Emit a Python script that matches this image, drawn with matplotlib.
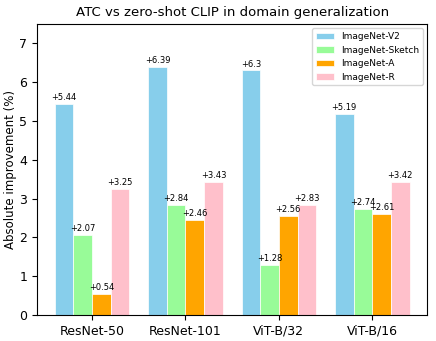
import matplotlib
matplotlib.use("Agg")
import matplotlib.pyplot as plt
import numpy as np

models = ["ResNet-50", "ResNet-101", "ViT-B/32", "ViT-B/16"]
datasets = ["ImageNet-V2", "ImageNet-Sketch", "ImageNet-A", "ImageNet-R"]
v2 = [5.44, 6.39, 6.3, 5.19]
sketch = [2.07, 2.84, 1.28, 2.74]
adv = [0.54, 2.46, 2.56, 2.61]
rend = [3.25, 3.43, 2.83, 3.42]
labels_txt = [["+5.44", "+6.39", "+6.3", "+5.19"],
              ["+2.07", "+2.84", "+1.28", "+2.74"],
              ["+0.54", "+2.46", "+2.56", "+2.61"],
              ["+3.25", "+3.43", "+2.83", "+3.42"]]
colors = ["skyblue", "palegreen", "orange", "pink"]

fig, ax = plt.subplots(figsize=(4.36, 3.41), dpi=100)
x = np.arange(len(models))
width = 0.2
for i, (vals, name) in enumerate(zip([v2, sketch, adv, rend], datasets)):
    pos = x + (i - 1.5) * width
    ax.bar(pos, vals, width, color=colors[i], label=name, edgecolor="white", linewidth=0.5)
    for p, v, t in zip(pos, vals, labels_txt[i]):
        ax.text(p, v + 0.05, t, ha="center", va="bottom", fontsize=6)

ax.set_title("ATC vs zero-shot CLIP in domain generalization", fontsize=9.5)
ax.set_ylabel("Absolute improvement (%)", fontsize=8.5, labelpad=2)
ax.set_xticks(x)
ax.set_xticklabels(models, fontsize=9)
ax.tick_params(axis="y", labelsize=9)
ax.set_ylim(0, 7.5)
ax.legend(loc="upper right", fontsize=6.5)
plt.subplots_adjust(left=0.085, right=0.98, top=0.93, bottom=0.076)
fig.savefig("out.png", dpi=100)
